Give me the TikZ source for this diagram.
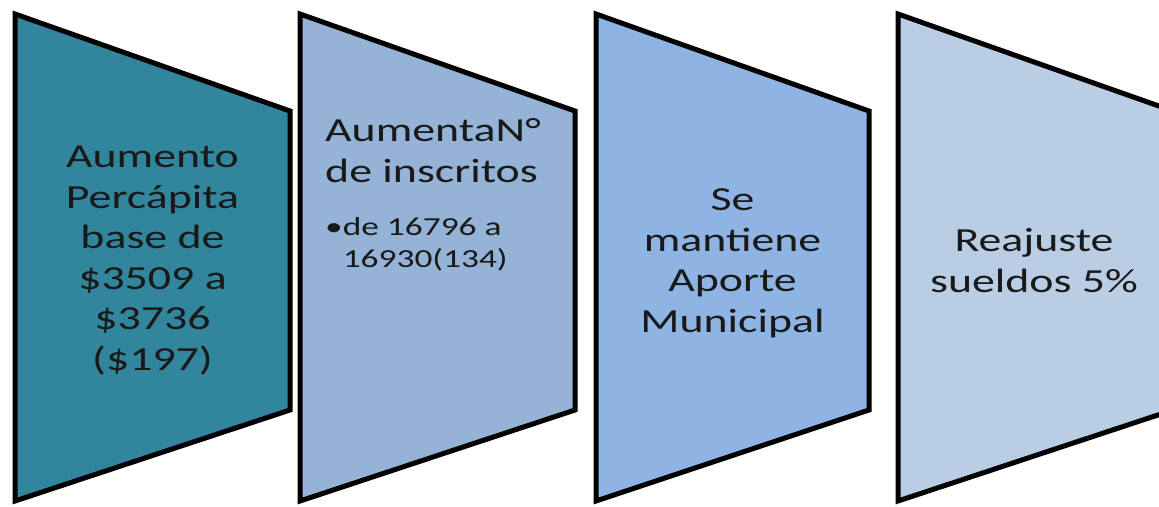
\documentclass[tikz,border=0pt]{standalone}
\usepackage{fontspec}
\setmainfont{Carlito}[FakeStretch=1.36]
\usepackage{tikz}

\definecolor{panelA}{HTML}{31859C}
\definecolor{panelB}{HTML}{95B3D7}
\definecolor{panelC}{HTML}{8EB4E3}
\definecolor{panelD}{HTML}{B9CDE5}

\begin{document}
\begin{tikzpicture}[x=1pt,y=-1pt]
\tikzstyle{every node}=[inner sep=0pt,text=black!90,font=\fontsize{33.7}{40.5}\selectfont];
\tikzstyle{panel}=[draw=black,line width=5pt];
\useasboundingbox (0,0) rectangle (1159,506);
\foreach \x/\w/\c in {15/275/panelA,300/275/panelB,596/273/panelC,898/275/panelD}
  \filldraw[panel,fill=\c] (\x,14) -- ++(\w,97) -- ++(0,299) -- (\x,501) -- cycle;
% anchor=base sits on the last line
\node[align=center,anchor=base] (percapita) at (152.5,370) {Aumento\\Percápita\\base de\\\$3509 a\\\$3736\\(\$197)};
\node[align=left,anchor=base west] (inscritos) at (325,182) {AumentaN°\\de inscritos};
\node[align=left,anchor=base west,font=\fontsize{26}{32}\selectfont] (rango) at (325,267) {\textbullet de 16796 a\\\phantom{\textbullet}16930(134)};
\node[align=center,anchor=base] (aporte) at (732.5,332) {Se\\mantiene\\Aporte\\Municipal};
\node[align=center,anchor=base] (sueldos) at (1034,292) {Reajuste\\sueldos 5\%};
\end{tikzpicture}
\end{document}
